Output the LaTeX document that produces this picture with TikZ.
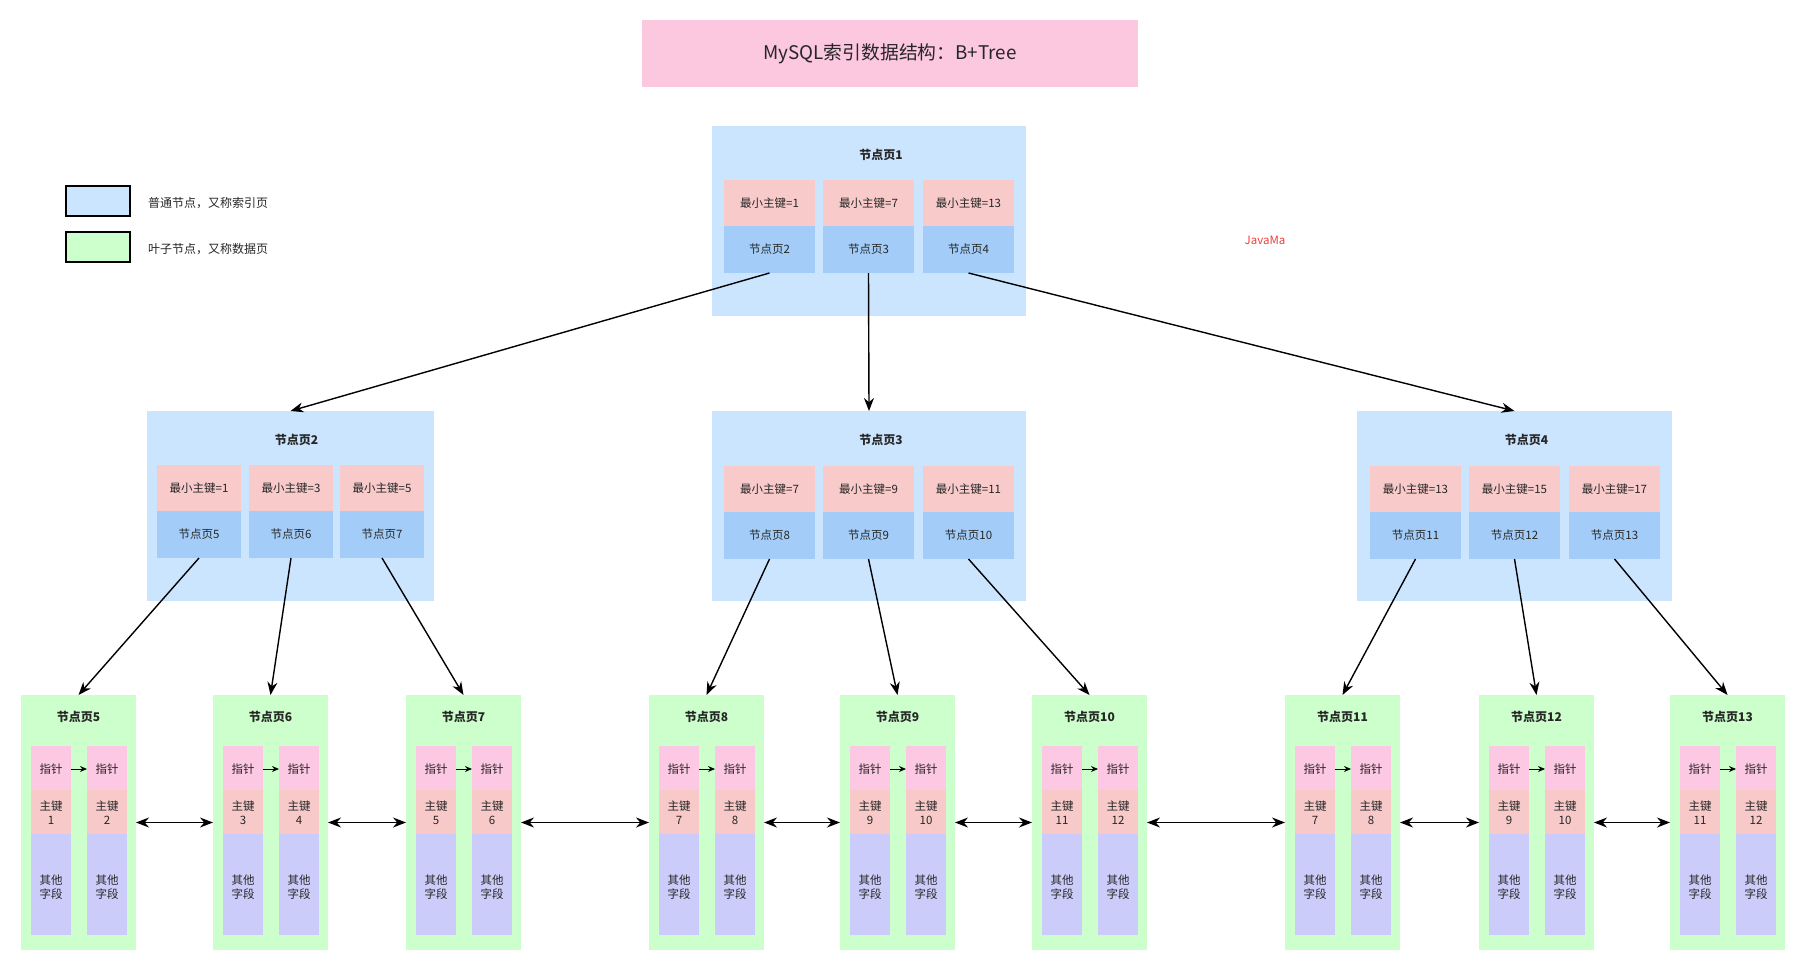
\documentclass[tikz,border=0pt]{standalone}
\usepackage{fontspec}
\setmainfont{Noto Sans CJK SC}
\usetikzlibrary{arrows.meta,calc}
\definecolor{idxbg}{HTML}{CCE5FF}
\definecolor{keyfill}{HTML}{F8CACA}
\definecolor{ptrfill}{HTML}{A3CDF8}
\definecolor{leafbg}{HTML}{CCFFCC}
\definecolor{colpink}{HTML}{FDC8E3}
\definecolor{colsalmon}{HTML}{F8C9C9}
\definecolor{collav}{HTML}{CCCCFA}
\definecolor{titlebg}{HTML}{FBC8E0}
\definecolor{ink}{HTML}{262626}
\definecolor{markred}{HTML}{F03C3C}
\tikzset{
  every node/.style={inner sep=0pt, outer sep=0pt, text=ink},
  idxbox/.style={fill=idxbg, minimum height=190, anchor=north west},
  ttl/.style={font=\fontsize{12}{14}\selectfont\bfseries},
  keycell/.style={fill=keyfill, minimum height=46, anchor=north west, font=\fontsize{11.5}{13}\selectfont},
  ptrcell/.style={fill=ptrfill, minimum height=47, anchor=north west, font=\fontsize{11.5}{13}\selectfont},
  leafbox/.style={fill=leafbg, minimum width=115, minimum height=255, anchor=north west},
  colpart/.style={minimum width=40, anchor=north west},
  lt/.style={align=center, font=\fontsize{11.5}{14}\selectfont},
  tree/.style={line width=1.4pt, -{Stealth[length=13pt,width=10pt]}},
  bidir/.style={line width=1.4pt, {Stealth[length=13pt,width=10pt]}-{Stealth[length=13pt,width=10pt]}},
  ptrarrow/.style={line width=1pt, -{Stealth[length=7pt,width=6pt]}},
  legbox/.style={draw=black, line width=1.5pt, minimum width=64, minimum height=30, anchor=north west},
  legtext/.style={anchor=west, font=\fontsize{12}{14}\selectfont},
}
% #1 name, #2 left, #3 top, #4 width, #5 title, #6 title x-offset
\newcommand{\idxpage}[6]{%
  \node[idxbox, minimum width=#4] (#1) at (#2,#3) {};
  \node[ttl] (#1t) at ($(#1.north)+(#6,29)$) {#5};}
\newcommand{\idxcell}[6]{%
  \node[keycell, minimum width=#4] (#1k) at (#2,#3) {最小主键=#5};
  \node[ptrcell, minimum width=#4] (#1c) at (#2,#3+46) {节点页#6};}
\newcommand{\leafpage}[4]{%
  \node[leafbox] (leaf#1) at (#2,695) {};
  \node[ttl] (leaf#1t) at (#2+57.5,717) {节点页#1};
  \node[colpart, fill=colpink, minimum height=44] (leaf#1ua) at (#2+10,746) {};
  \node[colpart, fill=colpink, minimum height=44] (leaf#1ub) at (#2+66,746) {};
  \node[colpart, fill=colsalmon, minimum height=44] (leaf#1sa) at (#2+10,790) {};
  \node[colpart, fill=colsalmon, minimum height=44] (leaf#1sb) at (#2+66,790) {};
  \node[colpart, fill=collav, minimum height=101] (leaf#1la) at (#2+10,834) {};
  \node[colpart, fill=collav, minimum height=101] (leaf#1lb) at (#2+66,834) {};
  \node[lt] (leaf#1pa) at (#2+30,769) {指针};
  \node[lt] (leaf#1pb) at (#2+86,769) {指针};
  \node[lt] (leaf#1ka) at (#2+30,813) {主键\\#3};
  \node[lt] (leaf#1kb) at (#2+86,813) {主键\\#4};
  \node[lt] (leaf#1oa) at (#2+30,887) {其他\\字段};
  \node[lt] (leaf#1ob) at (#2+86,887) {其他\\字段};
  \draw[ptrarrow] (leaf#1ua.east |- leaf#1pa) -- (leaf#1ub.west |- leaf#1pb);}
\begin{document}
\begin{tikzpicture}[x=1pt,y=-1pt]
\useasboundingbox (0,0) rectangle (1804,971);
% title
\node[fill=titlebg, minimum width=496, minimum height=67, anchor=north west,
      font=\fontsize{18.8}{22}\selectfont] (title) at (642,20) {MySQL索引数据结构：B+Tree};
% legend
\node[legbox, fill=idxbg] (legidx) at (66,186) {};
\node[legtext] (legidxt) at (148,203) {普通节点，又称索引页};
\node[legbox, fill=leafbg] (legleaf) at (66,232) {};
\node[legtext] (legleaft) at (148,249) {叶子节点，又称数据页};
\node[text=markred, font=\fontsize{11.5}{13}\selectfont] (mark) at (1265,240) {JavaMa};
% index pages
\idxpage{p1}{712}{126}{314}{节点页1}{12}
\idxcell{p1a}{724}{180}{91}{1}{2}
\idxcell{p1b}{823}{180}{91}{7}{3}
\idxcell{p1c}{923}{180}{91}{13}{4}
\idxpage{p2}{147}{411}{287}{节点页2}{6}
\idxcell{p2a}{157}{465}{84}{1}{5}
\idxcell{p2b}{249}{465}{84}{3}{6}
\idxcell{p2c}{340}{465}{84}{5}{7}
\idxpage{p3}{712}{411}{314}{节点页3}{12}
\idxcell{p3a}{724}{466}{91}{7}{8}
\idxcell{p3b}{823}{466}{91}{9}{9}
\idxcell{p3c}{923}{466}{91}{11}{10}
\idxpage{p4}{1357}{411}{315}{节点页4}{12}
\idxcell{p4a}{1370}{466}{91}{13}{11}
\idxcell{p4b}{1469}{466}{91}{15}{12}
\idxcell{p4c}{1569}{466}{91}{17}{13}
% leaves
\leafpage{5}{21}{1}{2}
\leafpage{6}{213}{3}{4}
\leafpage{7}{406}{5}{6}
\leafpage{8}{649}{7}{8}
\leafpage{9}{840}{9}{10}
\leafpage{10}{1032}{11}{12}
\leafpage{11}{1285}{7}{8}
\leafpage{12}{1479}{9}{10}
\leafpage{13}{1670}{11}{12}
% tree arrows
\draw[tree] (p1ac.south) -- (p2.north);
\draw[tree] (p1bc.south) -- (p3.north);
\draw[tree] (p1cc.south) -- (p4.north);
\draw[tree] (p2ac.south) -- (leaf5.north);
\draw[tree] (p2bc.south) -- (leaf6.north);
\draw[tree] (p2cc.south) -- (leaf7.north);
\draw[tree] (p3ac.south) -- (leaf8.north);
\draw[tree] (p3bc.south) -- (leaf9.north);
\draw[tree] (p3cc.south) -- (leaf10.north);
\draw[tree] (p4ac.south) -- (leaf11.north);
\draw[tree] (p4bc.south) -- (leaf12.north);
\draw[tree] (p4cc.south) -- (leaf13.north);
% leaf links
\draw[bidir] (leaf5.east) -- (leaf6.west);
\draw[bidir] (leaf6.east) -- (leaf7.west);
\draw[bidir] (leaf7.east) -- (leaf8.west);
\draw[bidir] (leaf8.east) -- (leaf9.west);
\draw[bidir] (leaf9.east) -- (leaf10.west);
\draw[bidir] (leaf10.east) -- (leaf11.west);
\draw[bidir] (leaf11.east) -- (leaf12.west);
\draw[bidir] (leaf12.east) -- (leaf13.west);
\end{tikzpicture}
\end{document}
